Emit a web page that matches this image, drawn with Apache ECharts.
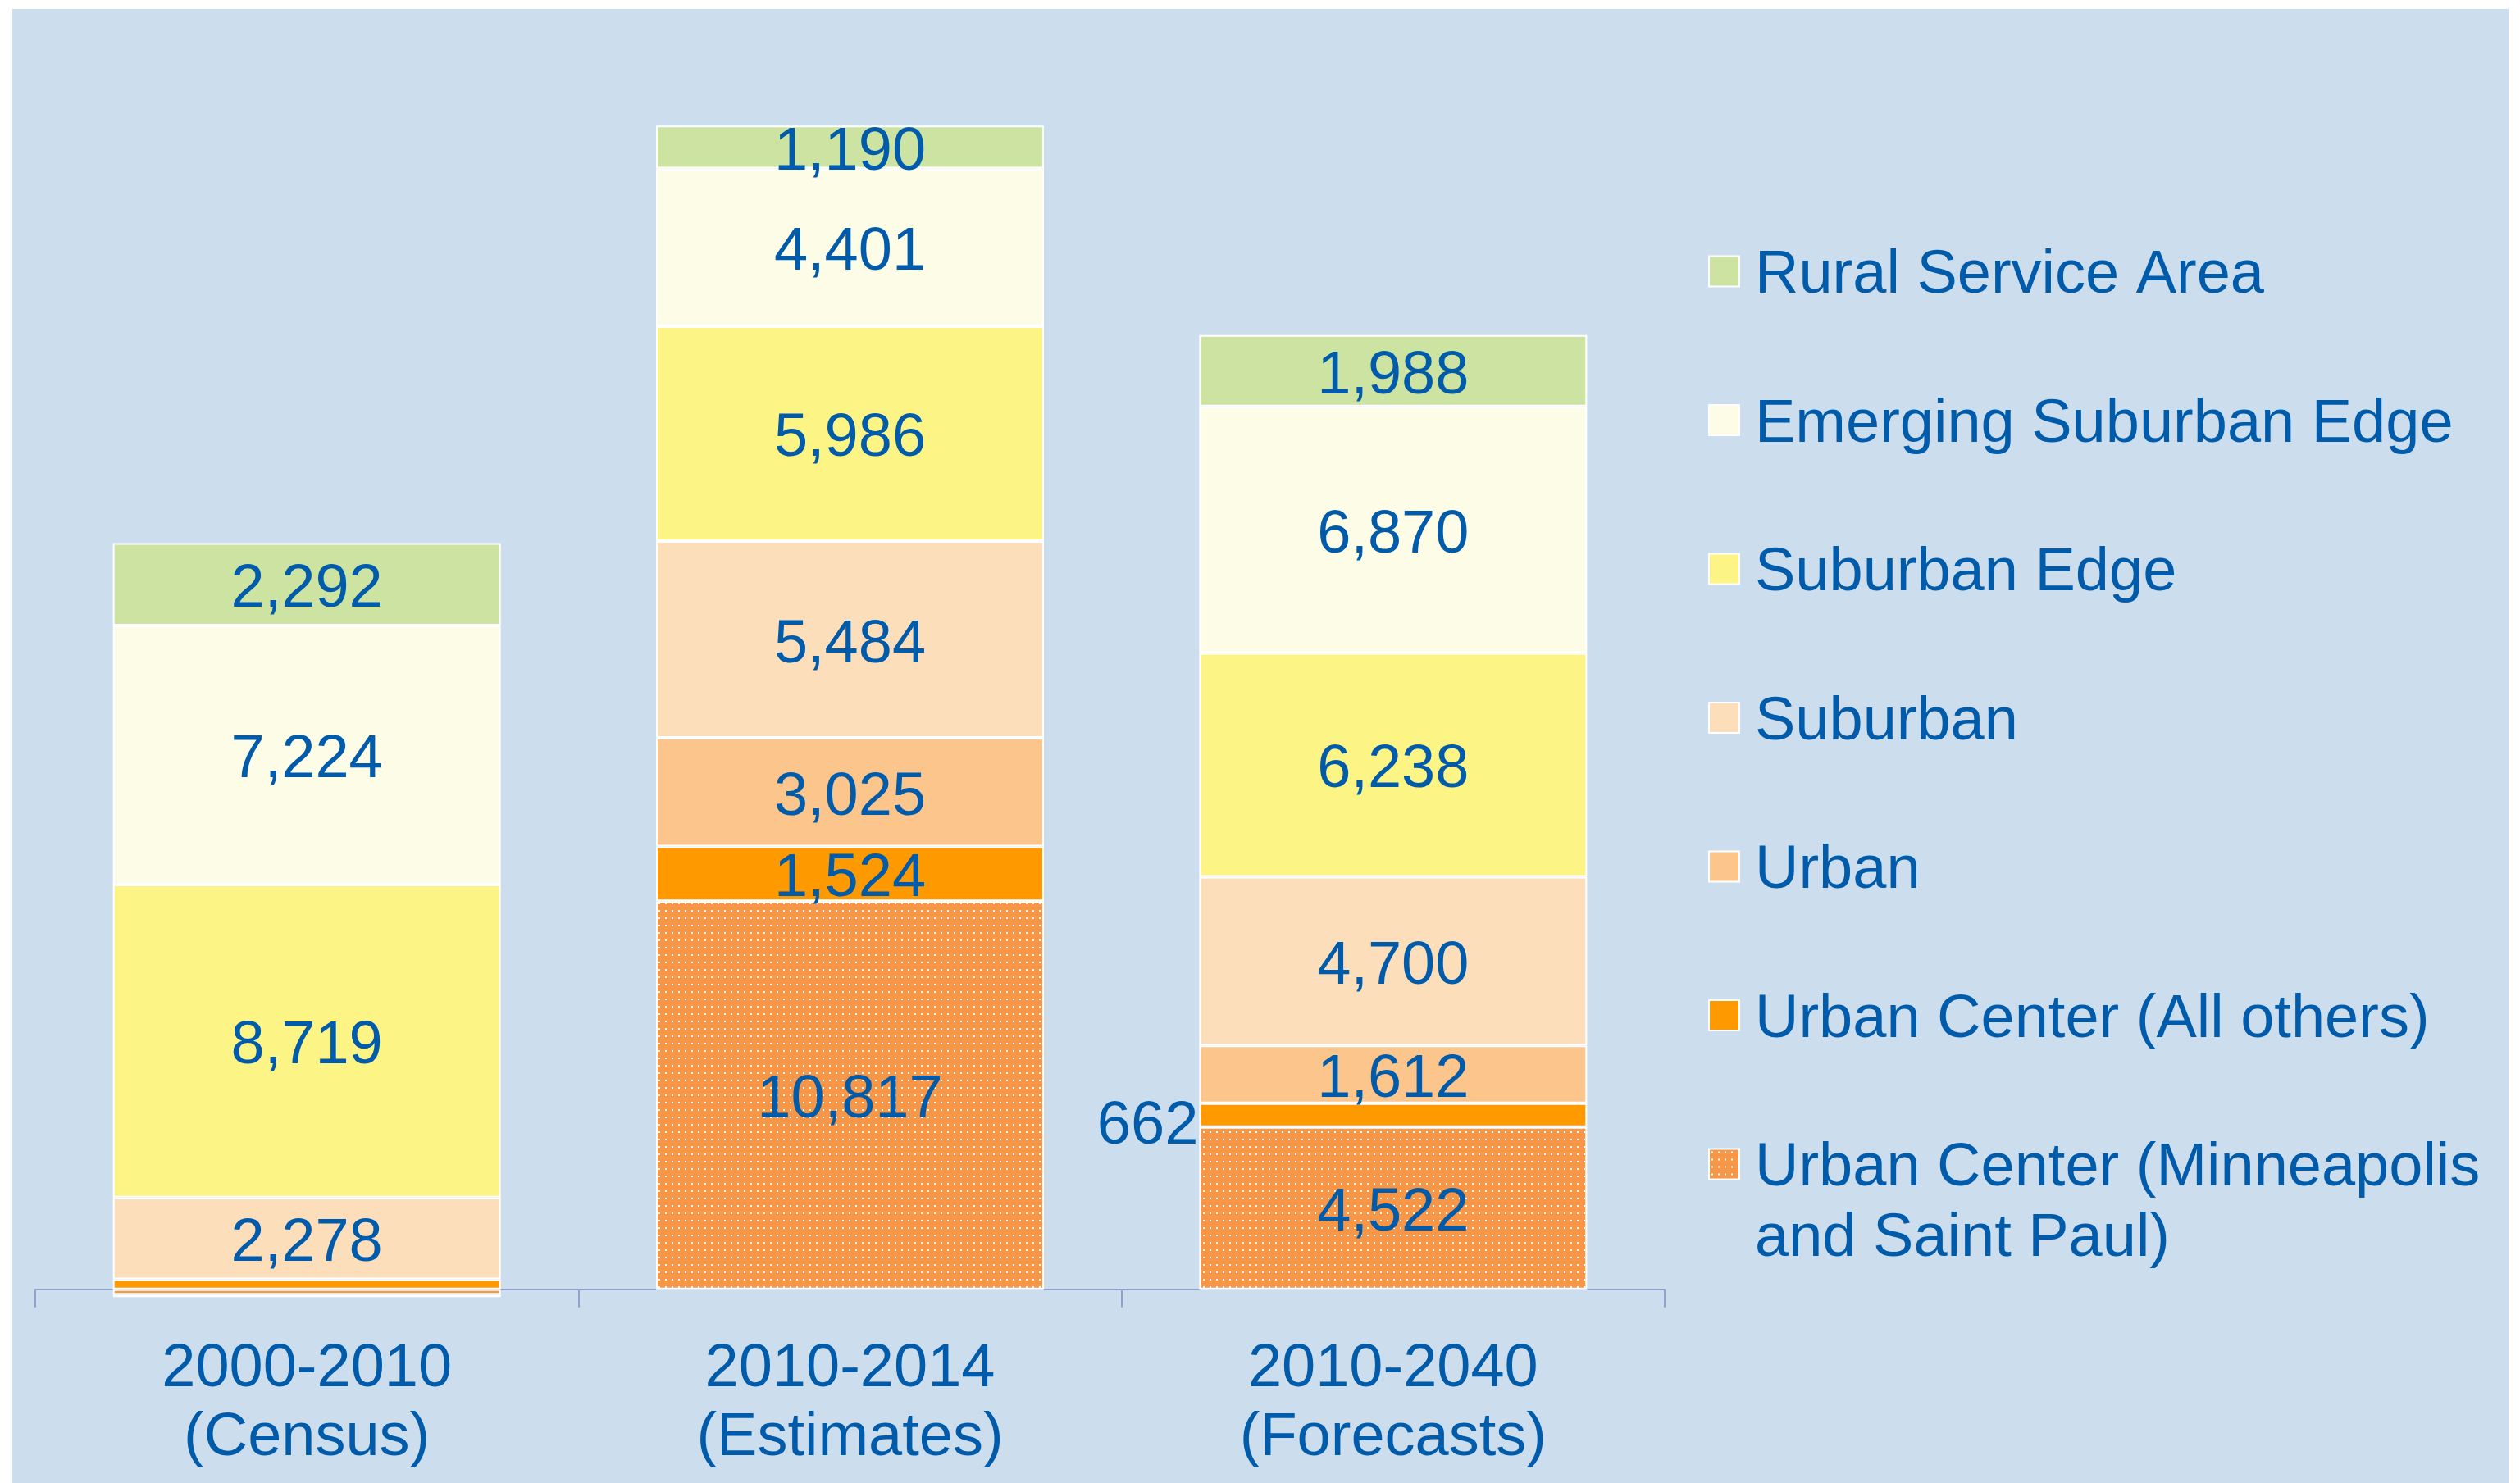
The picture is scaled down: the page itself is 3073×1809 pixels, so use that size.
<!DOCTYPE html>
<html>
<head>
<meta charset="utf-8">
<script src="https://cdn.jsdelivr.net/npm/echarts@6/dist/echarts.min.js"></script>
<style>
html,body{margin:0;padding:0;background:#ffffff;}
#bg{position:absolute;left:15px;top:11px;width:3044px;height:1798px;background:#CCDDED;}
#chart{position:absolute;left:0;top:0;width:3073px;height:1809px;}
</style>
</head>
<body>
<div id="bg"></div>
<div id="chart"></div>
<script>
// ---- data ----
const categories = ['2000-2010\n(Census)', '2010-2014\n(Estimates)', '2010-2040\n(Forecasts)'];
const seriesNames = [
  'Urban Center (Minneapolis and Saint Paul)',
  'Urban Center (All others)',
  'Urban',
  'Suburban',
  'Suburban Edge',
  'Emerging Suburban Edge',
  'Rural Service Area'
];
const ucMinneapolis = [-150, 10817, 4522];
const ucOthers      = [280, 1524, 662];
const urban         = [-70, 3025, 1612];
const suburban      = [2278, 5484, 4700];
const suburbanEdge  = [8719, 5986, 6238];
const emergingEdge  = [7224, 4401, 6870];
const rural         = [2292, 1190, 1988];
const seriesValues = [ucMinneapolis, ucOthers, urban, suburban, suburbanEdge, emergingEdge, rural];

// ---- styles ----
const FONT = "'Liberation Sans', Arial, sans-serif";
const BLUE = '#005BAA';
const pc = document.createElement('canvas');
pc.width = 8; pc.height = 9;
const pctx = pc.getContext('2d');
pctx.fillStyle = '#F79646'; pctx.fillRect(0, 0, 8, 9);
pctx.fillStyle = '#FFFFFF'; pctx.fillRect(3, 3, 2, 2);
const dotted = { image: pc, repeat: 'repeat' };
const colors = [dotted, '#FF9900', '#FCC58C', '#FCDEBA', '#FCF585', '#FDFCE6', '#CCE3A2'];

function buildData(values) {
  return values.map(v => {
    const item = { value: v };
    if (Math.abs(v) < 400) item.label = { show: false };
    else if (v < 1000) item.label = { position: 'left', distance: 1, offset: [0, 14] };
    return item;
  });
}

const series = seriesNames.map((name, i) => ({
  name: name,
  type: 'bar',
  stack: 'total',
  barWidth: 473,
  data: buildData(seriesValues[i]),
  itemStyle: { color: colors[i], borderColor: '#FFFFFF', borderWidth: 2 },
  label: {
    show: true,
    position: 'inside',
    offset: [0, 7],
    color: BLUE,
    fontSize: 74,
    fontFamily: FONT,
    textBorderWidth: 0,
    formatter: p => Number(p.value).toLocaleString('en-US')
  },
  emphasis: { disabled: true }
}));

const chart = echarts.init(document.getElementById('chart'), null, { renderer: 'canvas' });
chart.setOption({
  backgroundColor: 'transparent',
  animation: false,
  grid: { left: 43, right: 1043, top: 40.7, bottom: 192.5, containLabel: false, outerBoundsMode: 'none' },
  xAxis: {
    type: 'category',
    data: categories,
    axisLine: { onZero: true, lineStyle: { color: '#8FA3C8', width: 2 } },
    axisTick: { show: true, length: 22, lineStyle: { color: '#8FA3C8', width: 2 } },
    axisLabel: { color: BLUE, fontSize: 74, fontFamily: FONT, lineHeight: 84, margin: 12, interval: 0 }
  },
  yAxis: { type: 'value', min: -1000, max: 35000, show: false },
  legend: [
    {
      orient: 'vertical', left: 2083, top: 285, padding: 0,
      itemWidth: 37, itemHeight: 37, itemGap: 92.5, icon: 'rect', selectedMode: false,
      data: seriesNames.slice(1).reverse(),
      itemStyle: { borderColor: '#FFFFFF', borderWidth: 2 },
      formatter: name => '{s| }\n{a|' + name + '}',
      textStyle: {
        color: BLUE, fontSize: 74, fontFamily: FONT, padding: [0, 0, 0, 14],
        rich: {
          s: { fontSize: 8, lineHeight: 12, fontFamily: FONT },
          a: { color: BLUE, fontSize: 74, lineHeight: 84, fontFamily: FONT }
        }
      }
    },
    {
      orient: 'vertical', left: 2083, top: 1330, padding: 0,
      itemWidth: 37, itemHeight: 37, icon: 'rect', selectedMode: false,
      data: [seriesNames[0]],
      itemStyle: { borderColor: '#FFFFFF', borderWidth: 2 },
      formatter: () => '{s| }\n{a|Urban Center (Minneapolis}\n{a|and Saint Paul)}',
      textStyle: {
        color: BLUE, fontSize: 74, fontFamily: FONT, padding: [0, 0, 0, 14],
        rich: {
          s: { fontSize: 8, lineHeight: 97, fontFamily: FONT },
          a: { color: BLUE, fontSize: 74, lineHeight: 86, fontFamily: FONT }
        }
      }
    }
  ],
  series: series
});
</script>
</body>
</html>
